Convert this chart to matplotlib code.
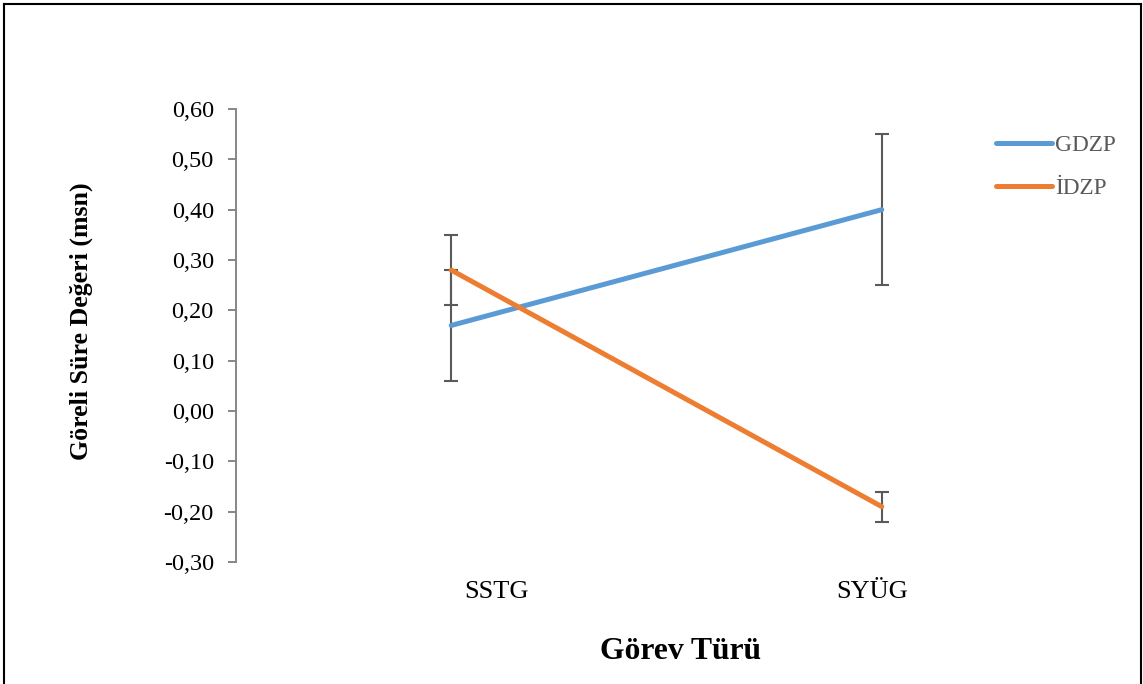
import matplotlib
matplotlib.use("Agg")
import matplotlib.pyplot as plt
import matplotlib.transforms as mtransforms
from matplotlib.lines import Line2D
import numpy as np

# Data
categories = ["SSTG", "SYÜG"]
series_names = ["GDZP", "İDZP"]
gdzp_values = [0.17, 0.40]
gdzp_errors = [0.11, 0.15]
idzp_values = [0.28, -0.19]
idzp_errors = [0.07, 0.03]
y_ticks = [-0.30, -0.20, -0.10, 0.00, 0.10, 0.20, 0.30, 0.40, 0.50, 0.60]

colors = ["#5B9BD5", "#ED7D31"]
err_color = "#5a5a5a"
axis_color = "#868686"

plt.rcParams["font.family"] = ["Liberation Serif", "DejaVu Serif"]

W, H = 1143, 684
fig = plt.figure(figsize=(W / 100, H / 100), dpi=100)
ax = fig.add_axes([236 / W, 1 - 562 / H, (1097 - 236) / W, (562 - 109) / H])

x = np.arange(len(categories))
for vals, errs, col, name in [(gdzp_values, gdzp_errors, colors[0], series_names[0]),
                              (idzp_values, idzp_errors, colors[1], series_names[1])]:
    ax.errorbar(x, vals, yerr=errs, fmt="none", ecolor=err_color, elinewidth=1.5,
                capsize=5, capthick=1.5, zorder=2)
    ax.plot(x, vals, color=col, lw=3.6, solid_capstyle="round", label=name, zorder=3)

ax.set_xlim(-0.5, 1.5)
ax.set_ylim(-0.30, 0.60)
ax.set_yticks(y_ticks)
ax.set_yticklabels([f"{v:.2f}".replace(".", ",") for v in y_ticks])
ax.set_xticks([])

for s in ["top", "right", "bottom"]:
    ax.spines[s].set_visible(False)
ax.spines["left"].set_color(axis_color)
ax.spines["left"].set_linewidth(1.4)
ax.tick_params(axis="y", direction="out", length=6, width=1.4, color=axis_color,
               labelsize=17.5, labelcolor="#000000", pad=10)

# Category labels below the plot area
label_shift_px = [45, -10]
blend = mtransforms.blended_transform_factory(ax.transData, ax.transAxes)
for xi, cat, dx in zip(x, categories, label_shift_px):
    tr = mtransforms.offset_copy(blend, fig=fig, x=dx, y=-28, units="dots")
    ax.text(xi, 0, cat, transform=tr, ha="center", va="center_baseline",
            fontsize=19, color="#000000", clip_on=False)

fig.text(81 / W, 1 - 321.5 / H, "Göreli Süre Değeri (msn)", fontsize=18.6,
         fontweight="bold", rotation=90, ha="center", va="center")
fig.text(681 / W, 1 - 648 / H, "Görev Türü", fontsize=22.8, fontweight="bold",
         ha="center", va="center_baseline")

leg = ax.legend(loc="center left", bbox_to_anchor=(996 / W, 1 - 167 / H),
                bbox_transform=fig.transFigure, frameon=False, fontsize=16.8,
                handlelength=2.4, handletextpad=0.15, labelspacing=0.95,
                borderpad=0, borderaxespad=0)
for t in leg.get_texts():
    t.set_color("#595959")

# Outer frame around the chart
for xs, ys in [([4, 1141], [4, 4]), ([4, 4], [4, 684]), ([1141, 1141], [4, 684])]:
    fig.add_artist(Line2D([v / W for v in xs], [1 - v / H for v in ys],
                          transform=fig.transFigure, color="black", lw=1.5))

fig.savefig("out.png", dpi=100)
